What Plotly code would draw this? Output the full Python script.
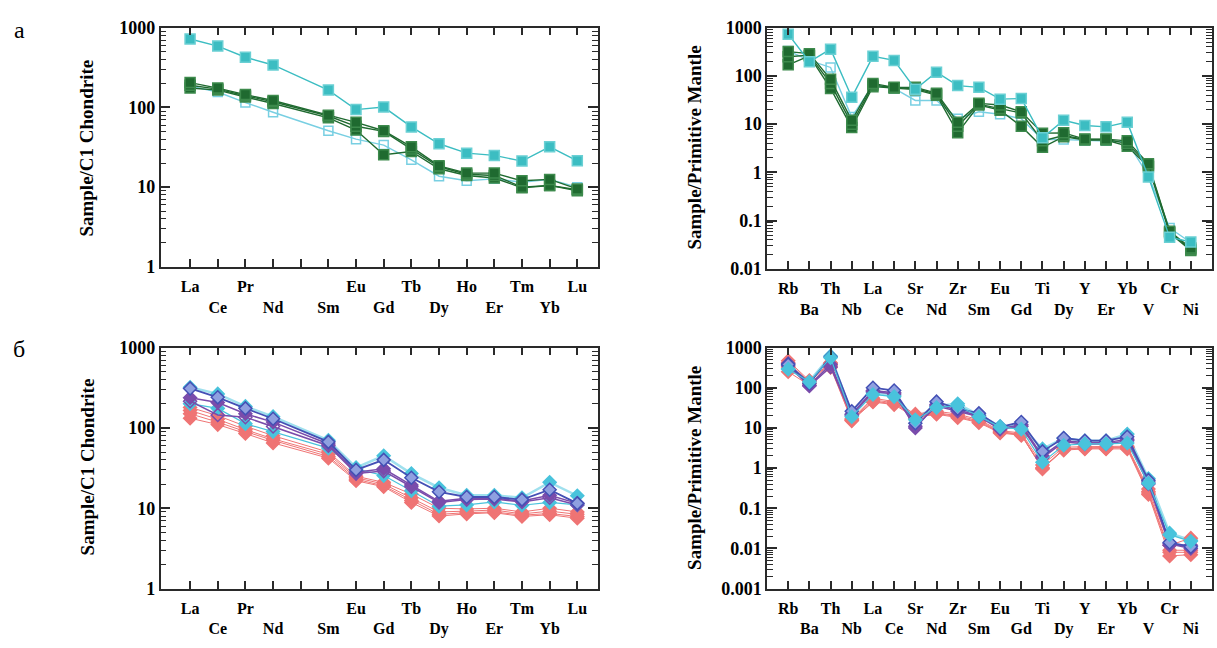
import plotly.graph_objects as go

# ---------------- categories ----------------
ree_elements = ["La", "Ce", "Pr", "Nd", "Pm", "Sm", "Eu", "Gd", "Tb", "Dy", "Ho", "Er", "Tm", "Yb", "Lu"]
ree_labels = ["La", "Ce", "Pr", "Nd", "", "Sm", "Eu", "Gd", "Tb", "Dy", "Ho", "Er", "Tm", "Yb", "Lu"]
spider_elements = ["Rb", "Ba", "Th", "Nb", "La", "Ce", "Sr", "Nd", "Zr", "Sm",
                   "Eu", "Gd", "Ti", "Dy", "Y", "Er", "Yb", "V", "Cr", "Ni"]
ree_yrange_log = [0, 3]          # 1 … 1000
spider_a_yrange_log = [-2, 3]    # 0.01 … 1000
spider_b_yrange_log = [-3, 3]    # 0.001 … 1000

# ---------------- panel а, chondrite-normalised REE (Pm = None) ----------------
a_ree_cyan_filled = [723, 589, 426, 341, None, 165, 94, 101, 57, 35, 26.7, 25, 21.2, 32, 21.4]
a_ree_cyan_open = [185, 156, 115, 87, None, 51, 40, 33.7, 22, 13.7, 12, 12.7, 11.5, 12.5, 10]
a_ree_green_1 = [205, 175, 145, 122, None, 80, 65, 51, 32, 18.5, 15, 15, 12, 12.5, 9.5]
a_ree_green_2 = [190, 170, 140, 118, None, 78, 58, 50, 30, 18, 14.5, 14, 10, 10.5, 9.3]
a_ree_green_3 = [175, 165, 135, 112, None, 74, 52, 25.5, 28, 17, 14, 13, 9.8, 10.5, 9]

# ---------------- panel а, primitive-mantle-normalised ----------------
a_pm_cyan_filled = [735, 197, 360, 36, 255, 210, 53, 120, 63, 58, 33, 34, 5.2, 12, 9.4, 8.8, 11, 0.8, 0.045, 0.036]
a_pm_cyan_open = [330, 210, 150, 14, 65, 55, 31, 31, 13, 18, 16, 13, 4.8, 4.8, 4.6, 4.5, 4.3, 0.85, 0.07, 0.035]
a_pm_green_1 = [320, 290, 85, 12, 70, 58, 58, 44, 11, 27, 25, 18, 6.5, 6.6, 4.9, 4.9, 4.5, 1.5, 0.06, 0.027]
a_pm_green_2 = [250, 270, 70, 10, 65, 57, 55, 42, 9, 26, 21, 17, 4.5, 5.8, 4.8, 4.8, 4.0, 1.4, 0.058, 0.025]
a_pm_green_3 = [170, 260, 55, 8.5, 60, 56, 52, 40, 6.6, 25, 19.5, 9, 3.3, 5.5, 4.7, 4.7, 3.5, 1.3, 0.055, 0.024]

# ---------------- panel б, chondrite-normalised REE ----------------
b_ree_cyan_1 = [320, 265, 185, 138, None, 70, 32, 45, 27, 18, 14.5, 14.5, 13.5, 21, 14.3]
b_ree_cyan_2 = [200, 175, 113, 90, None, 56, 31, 25.5, 16.5, 10.6, 11, 12, 10.9, 11.8, 11]
b_ree_blue_1 = [310, 240, 175, 130, None, 67, 30, 40, 24, 16, 13.8, 13.8, 12.8, 17, 11.5]
b_ree_purple_1 = [237, 207, 150, 118, None, 63, 28, 31, 19.5, 12.2, 13.3, 13.3, 12.3, 14.5, 11.5]
b_ree_purple_2 = [215, 145, 136, 104, None, 60, 27, 29, 18.5, 11.8, 12.8, 13, 12, 13.5, 11]
b_ree_pink_1 = [180, 142, 105, 80, None, 50, 25, 21, 15, 10, 9.8, 10, 9, 10, 9]
b_ree_pink_2 = [165, 128, 95, 73, None, 47, 24, 20, 13.5, 9, 9.2, 9.5, 8.5, 9.2, 8.4]
b_ree_pink_3 = [150, 118, 90, 70, None, 44, 23, 19, 12.5, 8.4, 8.8, 9, 8.2, 8.6, 7.9]
b_ree_pink_4 = [132, 110, 85, 65, None, 42, 22, 18.5, 11.8, 8, 8.5, 8.8, 7.9, 8.3, 7.5]

# ---------------- panel б, primitive-mantle-normalised ----------------
b_pm_cyan_1 = [300, 145, 620, 22, 75, 65, 17, 35, 40, 21, 11, 11, 3.0, 5.5, 4.8, 4.8, 7.0, 0.55, 0.024, 0.016]
b_pm_cyan_2 = [290, 140, 560, 19, 68, 60, 16, 32, 36, 19, 10.5, 9.3, 1.4, 3.7, 4.0, 4.0, 4.2, 0.42, 0.022, 0.015]
b_pm_blue_1 = [380, 130, 580, 26, 100, 85, 13, 45, 30, 23, 10.5, 14, 2.6, 5.6, 4.8, 4.8, 6.0, 0.5, 0.014, 0.011]
b_pm_purple_1 = [400, 115, 380, 22, 85, 75, 10, 38, 28, 20, 9.5, 12, 2.0, 4.8, 4.3, 4.3, 5.2, 0.45, 0.013, 0.010]
b_pm_purple_2 = [350, 110, 330, 20, 80, 70, 11, 35, 26, 19, 9.3, 11, 1.8, 4.5, 4.0, 4.0, 4.8, 0.4, 0.012, 0.012]
b_pm_pink_1 = [470, 150, 420, 17, 55, 45, 22, 26, 22, 16, 8.5, 7.5, 1.2, 3.3, 3.4, 3.4, 3.5, 0.3, 0.012, 0.018]
b_pm_pink_2 = [420, 140, 400, 16, 50, 42, 20, 24, 20, 15, 8, 7, 1.0, 3.0, 3.2, 3.2, 3.3, 0.26, 0.009, 0.009]
b_pm_pink_3 = [330, 125, 350, 15.5, 46, 40, 19, 23, 19, 14, 7.8, 6.8, 0.95, 2.9, 3.1, 3.1, 3.2, 0.24, 0.008, 0.008]
b_pm_pink_4 = [250, 115, 320, 15, 44, 38, 18, 22, 18, 13.5, 7.5, 6.5, 1.0, 2.8, 3.0, 3.0, 3.0, 0.22, 0.0065, 0.007]

# ---------------- styles ----------------
GREEN = "#1f6a30"
GREEN_EDGE = "#3d8a4c"
CYAN = "#3cbdc2"
CYAN_OPEN = "#78cfe2"
CYAN_B = "#49c3dc"
BLUE = "#4450b5"
PURPLE = "#7a4cab"
PINK = "#ef7474"
FONT = "Liberation Serif"

fig = go.Figure()


def add(xref, yref, cats, vals, color, symbol, size, line_w=1.4, line_color=None, edge=None, fill=None):
    fig.add_trace(go.Scatter(
        x=list(range(len(cats))), y=vals, mode="lines+markers",
        connectgaps=True, xaxis=xref, yaxis=yref, showlegend=False,
        line=dict(color=line_color or color, width=line_w),
        marker=dict(symbol=symbol, size=size,
                    color=fill if fill is not None else color,
                    line=dict(color=edge or color, width=1.5)),
    ))


# panel а — REE
add("x", "y", ree_elements, a_ree_cyan_open, CYAN_OPEN, "square-open", 9)
add("x", "y", ree_elements, a_ree_green_3, GREEN, "square", 10, edge=GREEN_EDGE)
add("x", "y", ree_elements, a_ree_green_2, GREEN, "square", 10, edge=GREEN_EDGE)
add("x", "y", ree_elements, a_ree_green_1, GREEN, "square", 10, edge=GREEN_EDGE)
add("x", "y", ree_elements, a_ree_cyan_filled, CYAN, "square", 10, edge="#6ad0d4")

# panel а — spider
add("x2", "y2", spider_elements, a_pm_cyan_open, CYAN_OPEN, "square-open", 9)
add("x2", "y2", spider_elements, a_pm_green_3, GREEN, "square", 10, edge=GREEN_EDGE)
add("x2", "y2", spider_elements, a_pm_green_2, GREEN, "square", 10, edge=GREEN_EDGE)
add("x2", "y2", spider_elements, a_pm_green_1, GREEN, "square", 10, edge=GREEN_EDGE)
add("x2", "y2", spider_elements, a_pm_cyan_filled, CYAN, "square", 10, edge="#6ad0d4")

# panel б — REE
add("x3", "y3", ree_elements, b_ree_cyan_1, CYAN_B, "diamond", 10, line_w=2.5, line_color="#9fe0ee")
add("x3", "y3", ree_elements, b_ree_pink_4, PINK, "diamond", 10, line_w=1)
add("x3", "y3", ree_elements, b_ree_pink_3, PINK, "diamond", 10, line_w=1)
add("x3", "y3", ree_elements, b_ree_pink_2, PINK, "diamond", 10, line_w=1)
add("x3", "y3", ree_elements, b_ree_pink_1, PINK, "diamond", 10, line_w=1)
add("x3", "y3", ree_elements, b_ree_cyan_2, CYAN_B, "diamond", 10, line_w=1.2)
add("x3", "y3", ree_elements, b_ree_purple_2, PURPLE, "diamond-open", 10, line_w=1.5)
add("x3", "y3", ree_elements, b_ree_purple_1, PURPLE, "diamond", 10, line_w=1.5)
add("x3", "y3", ree_elements, b_ree_blue_1, BLUE, "diamond", 10, line_w=1.8, fill="#8fa0e0")

# panel б — spider
add("x4", "y4", spider_elements, b_pm_cyan_1, CYAN_B, "diamond", 10, line_w=2.5, line_color="#9fe0ee")
add("x4", "y4", spider_elements, b_pm_pink_4, PINK, "diamond", 10, line_w=1)
add("x4", "y4", spider_elements, b_pm_pink_3, PINK, "diamond", 10, line_w=1)
add("x4", "y4", spider_elements, b_pm_pink_2, PINK, "diamond", 10, line_w=1)
add("x4", "y4", spider_elements, b_pm_pink_1, PINK, "diamond", 10, line_w=1)
add("x4", "y4", spider_elements, b_pm_purple_2, PURPLE, "diamond-open", 10, line_w=1.5)
add("x4", "y4", spider_elements, b_pm_purple_1, PURPLE, "diamond", 10, line_w=1.5)
add("x4", "y4", spider_elements, b_pm_blue_1, BLUE, "diamond", 10, line_w=1.8, fill="#8fa0e0")
add("x4", "y4", spider_elements, b_pm_cyan_2, CYAN_B, "diamond", 10, line_w=1.2)


def two_row(labels):
    return [lab if i % 2 == 0 else "<br>" + lab for i, lab in enumerate(labels)]


W, H = 1217, 648
px = lambda v: v / W
py = lambda v: 1 - v / H

axis_common = dict(showline=True, linecolor="#2a2a2a", linewidth=1.5, mirror="allticks",
                   ticks="inside", tickcolor="#2a2a2a", tickwidth=1.5, showgrid=False,
                   zeroline=False, tickfont=dict(family=FONT, size=16, color="black", weight="bold"))


def xaxis(dom, cats, labels, rng, anchor):
    return dict(axis_common, domain=dom, range=rng, tickmode="array",
                tickvals=list(range(len(cats))), ticktext=two_row(labels),
                ticklen=8, anchor=anchor, ticklabelstandoff=4, tickangle=0)


def yaxis(dom, rng, anchor):
    d = dict(axis_common, domain=dom, type="log", range=rng, tickmode="linear",
             tick0=0, dtick=1, exponentformat="none", ticklen=10, tickwidth=1.8, anchor=anchor,
             minor=dict(dtick="D1", ticks="inside", ticklen=6, tickcolor="#2a2a2a",
                        tickwidth=1.3, showgrid=False))
    d["tickfont"] = dict(family=FONT, size=18, color="black", weight="bold")
    return d


xl = [px(160.5), px(597.5)]
xr = [px(767), px(1212)]
yt = [py(265), py(18.3)]
ytr = [py(267), py(18.3)]
yb = [py(597), py(348.3)]

fig.update_layout(
    width=W, height=H, margin=dict(l=0, r=0, t=0, b=0),
    paper_bgcolor="white", plot_bgcolor="white", showlegend=False,
    xaxis=xaxis(xl, ree_elements, ree_labels, [-1.07, 14.73], "y"),
    yaxis=yaxis(yt, ree_yrange_log, "x"),
    xaxis2=xaxis(xr, spider_elements, spider_elements, [-1, 20], "y2"),
    yaxis2=yaxis(ytr, spider_a_yrange_log, "x2"),
    xaxis3=xaxis(xl, ree_elements, ree_labels, [-1.07, 14.73], "y3"),
    yaxis3=yaxis(yb, ree_yrange_log, "x3"),
    xaxis4=xaxis(xr, spider_elements, spider_elements, [-1, 20], "y4"),
    yaxis4=yaxis(yb, spider_b_yrange_log, "x4"),
)

title_font = dict(family=FONT, size=19, color="black", weight="bold")
for x, y, t in [(87, 143, "Sample/C1 Chondrite"), (694.5, 142.5, "Sample/Primitive Mantle"),
                (87, 472, "Sample/C1 Chondrite"), (694.5, 473, "Sample/Primitive Mantle")]:
    fig.add_annotation(x=px(x), y=py(y), xref="paper", yref="paper", text=t, textangle=-90,
                       showarrow=False, font=title_font, xanchor="center", yanchor="middle")

for x, y, t in [(19, 21, "а"), (19, 350, "б")]:
    fig.add_annotation(x=px(x), y=py(y), xref="paper", yref="paper", text=t, showarrow=False,
                       font=dict(family=FONT, size=24, color="black"), xanchor="center", yanchor="middle")

fig.write_html("out.html")
